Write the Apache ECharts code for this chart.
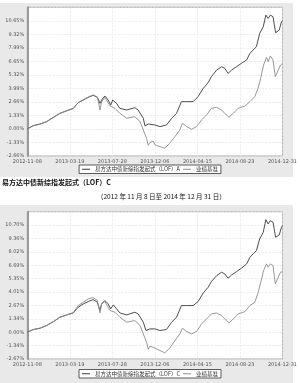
<!DOCTYPE html>
<html><head><meta charset="utf-8">
<script src="https://cdn.jsdelivr.net/npm/echarts@6/dist/echarts.min.js"></script>
<style>html,body{margin:0;padding:0;background:#fff}#c{width:300px;height:383px}</style>
</head><body><div id="c"></div>
<script>
const xLabels = ['2012-11-08','2013-03-19','2013-07-28','2013-12-06','2014-04-15','2014-08-23','2014-12-31'];
const yLabels1 = ['-2.66%','-1.33%','0.00%','1.33%','2.66%','3.99%','5.32%','6.65%','7.99%','9.32%','10.65%',''];
const yLabels2 = ['-2.67%','-1.34%','0.00%','1.34%','2.67%','4.01%','5.35%','6.69%','8.02%','9.36%','10.70%',''];
const name1 = '易方达中债新综指发起式（LOF）A';
const name2 = '易方达中债新综指发起式（LOF）C';
const benchName = '业绩基准';

// day offsets from 2012-11-08
const fundDays1 = [0,18,39,59,80,100,121,141,156,172,187,202,215,223,228,238,248,256,262,274,284,305,330,340,356,361,371,376,392,407,427,443,458,473,478,489,509,524,540,555,565,581,596,606,616,627,642,657,673,683,693,703,713,724,732,739,746,754,762,773,780,783];
const fundA = [0,0.33,0.49,0.72,1.15,1.54,1.80,2.03,2.59,2.85,3.11,3.31,3.11,2.52,2.85,3.25,2.85,2.36,2.85,2.52,2.03,1.87,2.10,1.87,1.05,0.30,0.49,0.30,0.39,0.23,0.39,1.05,1.54,2.69,2.85,2.69,2.69,3.18,4.00,4.56,5.15,5.80,6.13,5.97,5.47,5.80,6.13,6.46,6.79,7.44,7.77,8.10,9.41,10.06,11.21,10.88,11.21,11.05,9.47,9.74,10.56,10.65];
const benchDays = [0,18,39,59,80,100,121,141,156,172,187,202,215,223,228,238,254,269,284,305,330,346,356,366,371,376,386,392,407,422,437,453,468,476,489,504,519,535,550,565,581,596,611,619,632,647,668,683,698,708,716,725,734,739,746,754,761,770,777,783];
const bench1 = [0,0.30,0.47,0.70,1.12,1.52,1.78,2.00,2.60,2.88,3.15,3.35,3.15,1.87,2.69,3.11,2.26,2.03,1.54,1.05,1.21,0.72,-0.10,-0.92,-1.6,-1.35,-1.2,-1.57,-1.74,-1.90,-1.41,-0.75,-0.10,0.56,0.23,-0.03,0.23,0.89,1.38,2.03,2.13,1.87,1.38,1.15,1.54,2.03,2.26,2.69,3.18,4.00,4.98,6.29,7.05,6.62,7.18,6.79,5.15,5.80,6.29,6.46];
const fundDays2 = [0,18,39,59,80,100,121,141,156,172,187,202,215,223,228,238,248,256,264,274,284,305,330,340,356,364,376,392,407,427,443,458,473,478,489,509,524,540,555,565,581,596,606,616,627,642,657,673,683,693,703,713,724,732,739,746,754,762,773,780,783];
const fundC = [0,0.27,0.40,0.67,1.06,1.50,1.73,1.93,2.49,2.83,3.06,3.26,2.99,2.16,2.83,3.16,2.83,2.33,2.73,2.33,1.93,1.73,2.00,1.83,1.00,0.17,0.33,0.33,0.17,0.27,1.00,1.50,2.66,2.83,2.66,2.66,3.06,3.92,4.49,5.06,5.65,5.99,5.82,5.39,5.72,6.05,6.39,6.82,7.48,7.82,8.15,9.31,9.98,11.24,10.81,11.14,10.98,9.48,9.71,10.48,10.64];
const bench2 = [0,0.25,0.40,0.65,1.05,1.48,1.72,1.95,2.66,2.99,3.33,3.46,3.16,1.93,2.83,3.06,2.16,2.00,1.50,1.00,1.16,0.67,-0.17,-1.00,-1.7,-1.4,-1.5,-1.66,-1.83,-2.06,-1.60,-0.83,-0.17,0.40,0.07,-0.17,0.07,0.83,1.33,1.83,1.93,1.66,1.16,0.93,1.33,1.83,2.06,2.66,2.99,3.92,4.92,6.15,6.82,6.49,6.82,6.65,4.82,5.49,5.99,6.05];

const totalDays = 783;
const xStep = totalDays / 6;
const yStep1 = 1.3309, yStep2 = 1.3372;

const pair = (d, v) => d.map((x, i) => [x, v[i]]);
const FONT = 'DejaVu Sans';
const fundColor = '#3a3a3a', benchColor = '#8c8c8c';

function xAxis(gi) {
  return {
    type: 'value', gridIndex: gi, min: 0, max: totalDays, interval: xStep,
    axisLine: { show: false }, axisTick: { show: false },
    axisLabel: { fontSize: 5, color: '#555', fontFamily: FONT, margin: 3,
      formatter: v => xLabels[Math.round(v / xStep)] || '' },
    splitLine: { show: true, lineStyle: { color: '#e2e2e2', type: 'dashed', width: 0.6 } }
  };
}
function yAxis(gi, step, labels) {
  return {
    type: 'value', gridIndex: gi, min: -2 * step, max: 9 * step, interval: step,
    axisLine: { show: true, lineStyle: { color: '#999', width: 2 } }, axisTick: { show: false },
    axisLabel: { fontSize: 5, color: '#555', fontFamily: FONT, margin: 3,
      formatter: v => labels[Math.round(v / step) + 2] || '' },
    splitLine: { show: true, lineStyle: { color: '#e2e2e2', type: 'dashed', width: 0.6 } }
  };
}
function line(name, data, gi, color) {
  return { name, type: 'line', xAxisIndex: gi, yAxisIndex: gi, data, showSymbol: false,
    symbol: 'none', lineStyle: { color, width: 0.9 }, itemStyle: { color }, animation: false };
}
function legend(top, names) {
  return { top, left: 'center', data: names, icon: 'rect', itemWidth: 8, itemHeight: 1, itemGap: 3,
    textStyle: { fontSize: 5.5, color: '#333', fontFamily: 'Noto Sans CJK SC' },
    backgroundColor: '#fff', borderColor: '#333', borderWidth: 0.8, padding: [1.5, 3], selectedMode: false };
}

const chart = echarts.init(document.getElementById('c'), null, { renderer: 'canvas' });
chart.setOption({
  animation: false,
  graphic: [
    { type: 'rect', shape: { x: 0, y: 3, width: 293, height: 174 }, style: { fill: '#e9e9e9' }, z: -10 },
    { type: 'rect', shape: { x: 0, y: 205, width: 293, height: 178 }, style: { fill: '#e9e9e9' }, z: -10 },
    { type: 'text', left: 2, top: 179, style: { text: '易方达中债新综指发起式（LOF）C', fontSize: 7, fontWeight: 'bold', fill: '#111', fontFamily: 'Noto Sans CJK SC' } },
    { type: 'text', left: 97, top: 193, style: { text: '（2012 年 11 月 8 日至 2014 年 12 月 31 日）', fontSize: 6.5, fill: '#111', fontFamily: 'Noto Sans CJK SC' } }
  ],
  grid: [
    { left: 27.3, top: 7.3, width: 255.4, height: 148.7, show: true, backgroundColor: '#fff', borderColor: '#aaa', borderWidth: 1 },
    { left: 27.3, top: 211.7, width: 255.4, height: 147.3, show: true, backgroundColor: '#fff', borderColor: '#aaa', borderWidth: 1 }
  ],
  xAxis: [xAxis(0), xAxis(1)],
  yAxis: [yAxis(0, yStep1, yLabels1), yAxis(1, yStep2, yLabels2)],
  legend: [legend(165, [name1, benchName]), legend(369.5, [name2, benchName])],
  series: [
    line(name1, pair(fundDays1, fundA), 0, fundColor),
    line(benchName, pair(benchDays, bench1), 0, benchColor),
    line(name2, pair(fundDays2, fundC), 1, fundColor),
    line(benchName, pair(benchDays, bench2), 1, benchColor)
  ]
});
</script></body></html>
